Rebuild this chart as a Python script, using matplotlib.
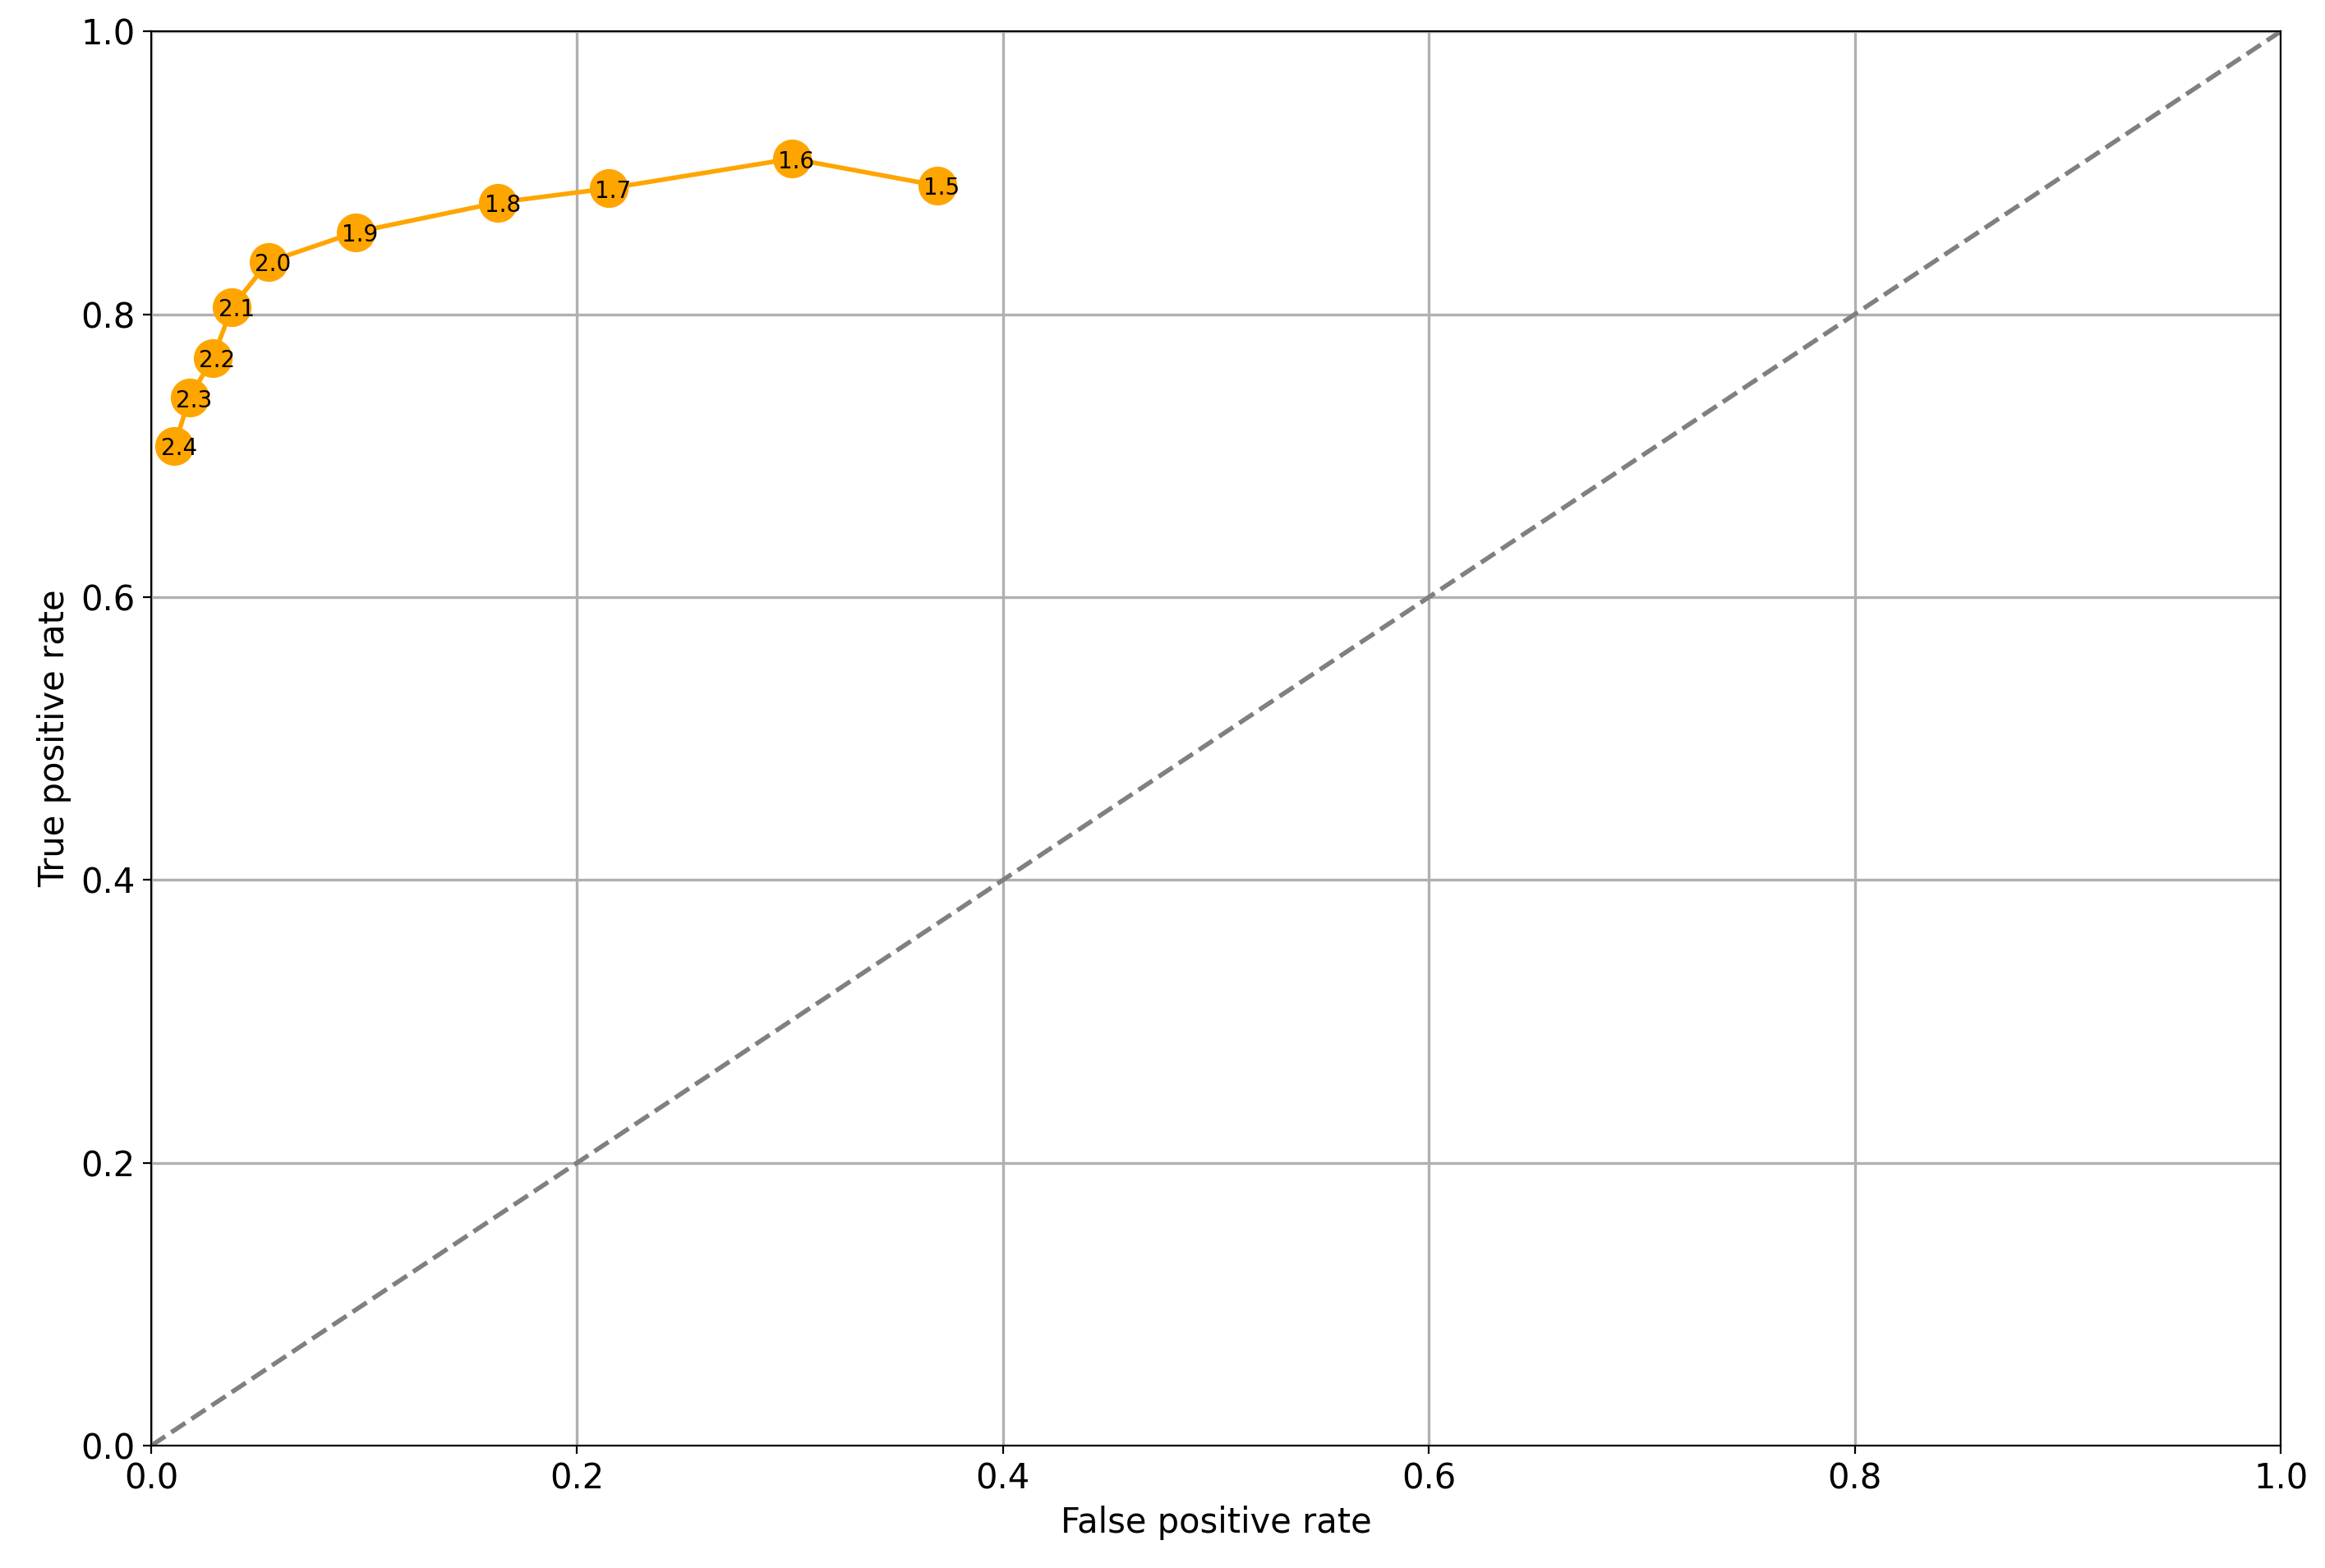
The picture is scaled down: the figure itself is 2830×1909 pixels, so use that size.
import matplotlib
matplotlib.use("Agg")
import matplotlib.pyplot as plt

thresholds = ["2.4", "2.3", "2.2", "2.1", "2.0", "1.9", "1.8", "1.7", "1.6", "1.5"]
fpr = [0.011, 0.018, 0.029, 0.038, 0.055, 0.096, 0.163, 0.215, 0.301, 0.369]
tpr = [0.707, 0.741, 0.769, 0.805, 0.837, 0.858, 0.879, 0.889, 0.910, 0.891]

fig, ax = plt.subplots(figsize=(14.15, 9.545), dpi=200)
ax.plot([0, 1], [0, 1], linestyle="--", color="gray", linewidth=2)
ax.plot(fpr, tpr, color="orange", marker="o", markersize=16, linewidth=2)
for x, y, t in zip(fpr, tpr, thresholds):
    ax.text(x + 0.002, y - 0.002, t, fontsize=10, ha="center", va="center")
ax.set_xlim(0, 1)
ax.set_ylim(0, 1)
ax.grid(True, color="#b0b0b0", linewidth=1.2)
ax.set_axisbelow(True)
ax.tick_params(labelsize=15)
ax.set_xlabel("False positive rate", fontsize=15)
ax.set_ylabel("True positive rate", fontsize=15)
fig.subplots_adjust(left=0.065, right=0.981, bottom=0.078, top=0.98)
fig.savefig("out.png")
